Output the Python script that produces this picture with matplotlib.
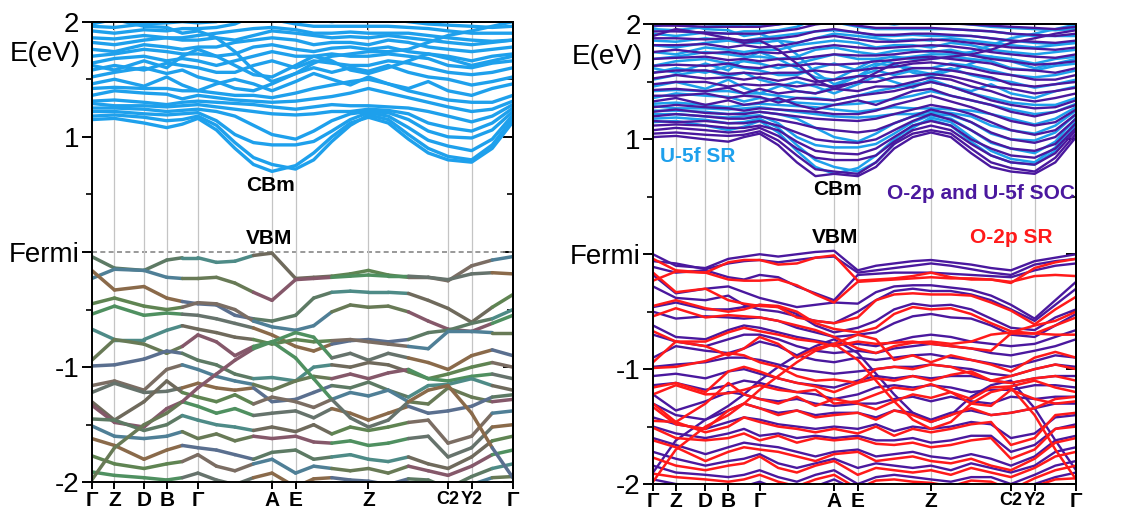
import numpy as np
import matplotlib.pyplot as plt
from matplotlib.collections import LineCollection
from matplotlib.transforms import ScaledTranslation

plt.rcParams['font.family'] = ['Liberation Sans', 'DejaVu Sans']

# k-path sampling (path length scaled to 0..100)
kpath = [0, 5.4, 12.4, 17.8, 21.5, 25.2, 29.6, 34.0, 38.4, 42.8, 48.4,
         52.7, 57.0, 61.4, 65.7, 70.4, 75.2, 79.9, 84.6, 90.2, 95.1, 100]
sym_k = [0, 5.4, 12.4, 17.8, 25.2, 42.8, 48.4, 65.7, 84.6, 90.2, 100]
sym_labels = ['Γ', 'Z', 'D', 'B', 'Γ', 'A', 'E', 'Z', 'C2', 'Y2', 'Γ']

# scalar-relativistic conduction bands (U-5f), eV
sr_cond = [
    [1.15, 1.16, 1.12, 1.08, 1.11, 1.16, 1.06, 0.90, 0.76, 0.70, 0.75, 0.86, 1.00, 1.12, 1.17, 1.12, 0.98, 0.86, 0.80, 0.78, 0.90, 1.13],
    [1.18, 1.19, 1.17, 1.14, 1.15, 1.18, 1.10, 0.95, 0.82, 0.76, 0.72, 0.80, 0.96, 1.10, 1.19, 1.15, 1.02, 0.90, 0.83, 0.80, 0.93, 1.16],
    [1.22, 1.22, 1.20, 1.19, 1.20, 1.21, 1.14, 1.02, 0.95, 0.93, 0.93, 0.96, 1.05, 1.15, 1.21, 1.18, 1.08, 0.97, 0.92, 0.88, 0.98, 1.19],
    [1.25, 1.25, 1.24, 1.22, 1.23, 1.24, 1.22, 1.18, 1.10, 1.02, 0.98, 1.05, 1.14, 1.20, 1.22, 1.21, 1.15, 1.05, 1.00, 0.99, 1.06, 1.22],
    [1.29, 1.27, 1.27, 1.26, 1.27, 1.28, 1.26, 1.24, 1.22, 1.20, 1.19, 1.20, 1.22, 1.22, 1.24, 1.23, 1.20, 1.12, 1.08, 1.05, 1.12, 1.25],
    [1.31, 1.32, 1.30, 1.28, 1.30, 1.31, 1.30, 1.29, 1.28, 1.26, 1.24, 1.26, 1.28, 1.27, 1.27, 1.26, 1.25, 1.22, 1.18, 1.13, 1.18, 1.28],
    [1.36, 1.40, 1.38, 1.37, 1.33, 1.36, 1.34, 1.32, 1.31, 1.30, 1.31, 1.33, 1.35, 1.38, 1.42, 1.38, 1.34, 1.30, 1.26, 1.22, 1.24, 1.31],
    [1.42, 1.43, 1.42, 1.42, 1.40, 1.40, 1.38, 1.36, 1.36, 1.34, 1.38, 1.42, 1.45, 1.48, 1.50, 1.46, 1.40, 1.36, 1.32, 1.30, 1.30, 1.36],
    [1.46, 1.50, 1.44, 1.52, 1.45, 1.40, 1.46, 1.50, 1.46, 1.40, 1.48, 1.55, 1.50, 1.45, 1.52, 1.46, 1.42, 1.48, 1.40, 1.36, 1.42, 1.46],
    [1.52, 1.56, 1.60, 1.55, 1.58, 1.52, 1.48, 1.42, 1.40, 1.46, 1.55, 1.60, 1.56, 1.60, 1.57, 1.62, 1.56, 1.52, 1.50, 1.45, 1.48, 1.52],
    [1.58, 1.62, 1.58, 1.64, 1.62, 1.60, 1.56, 1.56, 1.62, 1.66, 1.60, 1.66, 1.64, 1.62, 1.62, 1.66, 1.64, 1.60, 1.56, 1.54, 1.56, 1.60],
    [1.64, 1.68, 1.70, 1.66, 1.68, 1.66, 1.62, 1.66, 1.70, 1.74, 1.70, 1.70, 1.72, 1.70, 1.70, 1.72, 1.70, 1.68, 1.62, 1.60, 1.64, 1.66],
    [1.70, 1.72, 1.76, 1.74, 1.72, 1.72, 1.70, 1.72, 1.78, 1.80, 1.76, 1.74, 1.77, 1.78, 1.76, 1.78, 1.74, 1.72, 1.70, 1.66, 1.70, 1.72],
    [1.76, 1.74, 1.80, 1.78, 1.76, 1.78, 1.78, 1.82, 1.84, 1.86, 1.84, 1.80, 1.82, 1.82, 1.80, 1.84, 1.82, 1.78, 1.76, 1.74, 1.76, 1.78],
    [1.82, 1.80, 1.84, 1.86, 1.84, 1.84, 1.86, 1.84, 1.88, 1.92, 1.90, 1.88, 1.86, 1.87, 1.86, 1.88, 1.86, 1.84, 1.82, 1.80, 1.82, 1.84],
    [1.86, 1.85, 1.88, 1.86, 1.86, 1.88, 1.90, 1.92, 1.94, 1.95, 1.93, 1.90, 1.90, 1.91, 1.90, 1.90, 1.90, 1.88, 1.86, 1.84, 1.83, 1.84],
    [1.92, 1.90, 1.93, 1.92, 1.94, 1.94, 1.95, 1.98, 2.05, 2.02, 1.98, 1.96, 1.96, 1.96, 1.96, 1.96, 1.95, 1.94, 1.92, 1.90, 1.90, 1.90],
    [1.96, 1.95, 1.98, 1.99, 2.00, 1.99, 2.00, 2.05, 2.10, 2.10, 2.05, 2.02, 2.00, 2.02, 2.04, 2.02, 2.00, 1.98, 1.97, 1.96, 1.95, 1.96],
    [1.98, 2.02, 1.96, 1.95, 1.90, 1.92, 1.86, 1.74, 1.58, 1.48, 1.55, 1.64, 1.70, 1.72, 1.74, 1.74, 1.76, 1.82, 1.88, 1.92, 1.96, 2.00],
    [1.62, 1.58, 1.66, 1.60, 1.70, 1.76, 1.70, 1.62, 1.54, 1.52, 1.62, 1.70, 1.66, 1.58, 1.55, 1.60, 1.66, 1.72, 1.68, 1.62, 1.66, 1.70],
]

# scalar-relativistic valence bands (O-2p), eV
sr_val = [
    [-0.04, -0.14, -0.16, -0.07, -0.05, -0.05, -0.09, -0.08, -0.03, -0.01, -0.23, -0.22, -0.21, -0.19, -0.16, -0.20, -0.22, -0.22, -0.25, -0.12, -0.07, -0.04],
    [-0.23, -0.15, -0.16, -0.22, -0.23, -0.23, -0.22, -0.27, -0.35, -0.42, -0.24, -0.23, -0.22, -0.21, -0.20, -0.21, -0.21, -0.22, -0.24, -0.19, -0.18, -0.19],
    [-0.16, -0.33, -0.30, -0.40, -0.43, -0.45, -0.46, -0.55, -0.58, -0.60, -0.55, -0.40, -0.35, -0.34, -0.35, -0.35, -0.36, -0.42, -0.49, -0.61, -0.48, -0.37],
    [-0.45, -0.40, -0.47, -0.50, -0.48, -0.44, -0.45, -0.50, -0.60, -0.65, -0.68, -0.64, -0.52, -0.46, -0.48, -0.47, -0.52, -0.60, -0.67, -0.69, -0.62, -0.55],
    [-0.54, -0.47, -0.55, -0.53, -0.54, -0.55, -0.58, -0.62, -0.66, -0.72, -0.82, -0.86, -0.80, -0.77, -0.76, -0.78, -0.76, -0.70, -0.68, -0.62, -0.58, -0.50],
    [-0.67, -0.76, -0.76, -0.68, -0.64, -0.67, -0.70, -0.74, -0.76, -0.80, -0.76, -0.78, -0.77, -0.76, -0.78, -0.80, -0.82, -0.84, -0.69, -0.69, -0.70, -0.70],
    [-0.94, -0.76, -0.80, -0.88, -0.82, -0.72, -0.78, -0.90, -0.82, -0.78, -0.70, -0.74, -0.92, -0.88, -0.94, -0.88, -0.92, -0.96, -1.02, -0.90, -0.85, -0.90],
    [-0.99, -0.98, -0.93, -0.86, -0.88, -0.94, -0.98, -1.06, -1.10, -1.09, -1.12, -1.00, -0.98, -1.00, -0.96, -0.98, -1.04, -1.10, -1.06, -1.00, -0.96, -1.00],
    [-1.16, -1.12, -1.20, -1.02, -0.98, -1.02, -1.08, -1.12, -1.15, -1.20, -1.12, -1.08, -1.10, -1.06, -1.10, -1.05, -1.02, -1.10, -1.12, -1.08, -1.06, -1.10],
    [-1.22, -1.14, -1.22, -1.21, -1.18, -1.14, -1.18, -1.20, -1.18, -1.30, -1.28, -1.22, -1.16, -1.18, -1.13, -1.20, -1.26, -1.16, -1.15, -1.10, -1.16, -1.20],
    [-1.30, -1.46, -1.30, -1.12, -1.22, -1.26, -1.30, -1.24, -1.32, -1.26, -1.30, -1.35, -1.28, -1.22, -1.25, -1.20, -1.30, -1.32, -1.18, -1.26, -1.30, -1.28],
    [-1.33, -1.48, -1.52, -1.36, -1.30, -1.34, -1.40, -1.36, -1.42, -1.40, -1.38, -1.44, -1.36, -1.40, -1.46, -1.40, -1.34, -1.40, -1.38, -1.34, -1.26, -1.24],
    [-1.45, -1.46, -1.55, -1.50, -1.42, -1.46, -1.50, -1.52, -1.55, -1.52, -1.56, -1.50, -1.58, -1.52, -1.55, -1.52, -1.48, -1.46, -1.66, -1.60, -1.40, -1.38],
    [-1.51, -1.60, -1.62, -1.60, -1.56, -1.62, -1.58, -1.64, -1.60, -1.62, -1.60, -1.65, -1.66, -1.64, -1.68, -1.66, -1.62, -1.60, -1.78, -1.70, -1.52, -1.50],
    [-1.62, -1.68, -1.80, -1.72, -1.68, -1.70, -1.72, -1.76, -1.80, -1.74, -1.72, -1.80, -1.78, -1.76, -1.80, -1.82, -1.78, -1.84, -1.88, -1.78, -1.64, -1.60],
    [-1.77, -1.84, -1.88, -1.84, -1.82, -1.76, -1.86, -1.90, -1.84, -1.80, -1.92, -1.86, -1.88, -1.90, -1.88, -1.92, -1.86, -1.90, -1.94, -1.86, -1.76, -1.72],
    [-1.91, -1.94, -1.96, -1.98, -1.96, -1.92, -1.98, -2.02, -1.96, -1.92, -2.04, -1.97, -1.96, -1.98, -1.99, -2.02, -1.97, -1.98, -2.05, -1.95, -1.88, -1.84],
    [-2.05, -2.02, -2.04, -2.06, -2.05, -2.03, -2.06, -2.08, -2.04, -2.00, -2.08, -2.05, -2.06, -2.04, -2.05, -2.06, -2.05, -2.04, -2.08, -2.02, -1.96, -1.95],
    [-1.98, -1.70, -1.50, -1.40, -1.30, -1.18, -1.06, -0.94, -0.84, -0.78, -0.92, -1.10, -1.28, -1.44, -1.52, -1.46, -1.30, -1.20, -1.16, -1.40, -1.70, -1.96],
]

# spin-orbit coupled bands (O-2p and U-5f), eV
soc_cond = [
    [1.02, 1.03, 1.00, 0.98, 1.02, 1.05, 0.95, 0.80, 0.68, 0.70, 0.68, 0.76, 0.92, 1.02, 1.06, 1.02, 0.88, 0.76, 0.72, 0.70, 0.80, 1.02],
    [1.05, 1.06, 1.04, 1.03, 1.04, 1.07, 0.99, 0.86, 0.74, 0.72, 0.70, 0.80, 0.96, 1.05, 1.08, 1.05, 0.92, 0.80, 0.75, 0.72, 0.84, 1.05],
    [1.08, 1.10, 1.08, 1.06, 1.07, 1.10, 1.03, 0.92, 0.84, 0.82, 0.82, 0.86, 0.98, 1.08, 1.12, 1.08, 0.96, 0.86, 0.80, 0.78, 0.88, 1.08],
    [1.12, 1.13, 1.12, 1.10, 1.10, 1.12, 1.08, 0.98, 0.90, 0.88, 0.87, 0.92, 1.02, 1.12, 1.16, 1.12, 1.00, 0.92, 0.86, 0.84, 0.92, 1.10],
    [1.16, 1.15, 1.16, 1.14, 1.14, 1.16, 1.12, 1.06, 1.00, 0.98, 0.97, 1.00, 1.08, 1.16, 1.22, 1.17, 1.08, 0.98, 0.92, 0.90, 0.96, 1.14],
    [1.20, 1.22, 1.20, 1.18, 1.18, 1.20, 1.17, 1.14, 1.10, 1.08, 1.06, 1.08, 1.14, 1.20, 1.26, 1.22, 1.15, 1.06, 1.00, 0.97, 1.02, 1.18],
    [1.24, 1.26, 1.23, 1.22, 1.22, 1.24, 1.22, 1.20, 1.18, 1.17, 1.16, 1.18, 1.22, 1.26, 1.30, 1.27, 1.22, 1.15, 1.08, 1.04, 1.08, 1.22],
    [1.28, 1.30, 1.28, 1.27, 1.25, 1.27, 1.26, 1.25, 1.24, 1.22, 1.22, 1.25, 1.30, 1.34, 1.38, 1.33, 1.28, 1.22, 1.16, 1.12, 1.15, 1.26],
    [1.33, 1.36, 1.30, 1.34, 1.30, 1.32, 1.36, 1.30, 1.26, 1.30, 1.34, 1.30, 1.36, 1.42, 1.44, 1.38, 1.34, 1.30, 1.24, 1.20, 1.24, 1.30],
    [1.38, 1.38, 1.40, 1.36, 1.38, 1.37, 1.32, 1.36, 1.35, 1.34, 1.38, 1.40, 1.42, 1.46, 1.50, 1.46, 1.40, 1.34, 1.30, 1.27, 1.28, 1.34],
    [1.43, 1.44, 1.42, 1.45, 1.40, 1.44, 1.40, 1.42, 1.40, 1.44, 1.42, 1.46, 1.46, 1.50, 1.54, 1.52, 1.46, 1.42, 1.36, 1.33, 1.36, 1.40],
    [1.48, 1.50, 1.50, 1.46, 1.48, 1.47, 1.48, 1.46, 1.48, 1.46, 1.50, 1.50, 1.54, 1.55, 1.57, 1.55, 1.51, 1.46, 1.44, 1.40, 1.42, 1.45],
    [1.53, 1.56, 1.53, 1.54, 1.52, 1.54, 1.51, 1.54, 1.50, 1.52, 1.55, 1.55, 1.58, 1.62, 1.62, 1.60, 1.57, 1.54, 1.48, 1.46, 1.48, 1.50],
    [1.58, 1.60, 1.60, 1.57, 1.58, 1.57, 1.58, 1.58, 1.60, 1.58, 1.60, 1.62, 1.63, 1.66, 1.67, 1.65, 1.62, 1.58, 1.56, 1.52, 1.52, 1.56],
    [1.64, 1.65, 1.64, 1.66, 1.63, 1.62, 1.65, 1.64, 1.66, 1.65, 1.66, 1.68, 1.69, 1.71, 1.72, 1.70, 1.68, 1.66, 1.61, 1.60, 1.58, 1.62],
    [1.70, 1.71, 1.72, 1.69, 1.70, 1.68, 1.70, 1.70, 1.72, 1.74, 1.73, 1.73, 1.74, 1.76, 1.77, 1.76, 1.73, 1.70, 1.68, 1.65, 1.66, 1.68],
    [1.76, 1.78, 1.75, 1.76, 1.74, 1.76, 1.75, 1.77, 1.80, 1.82, 1.80, 1.79, 1.80, 1.81, 1.82, 1.81, 1.79, 1.76, 1.74, 1.72, 1.71, 1.74],
    [1.82, 1.82, 1.83, 1.80, 1.82, 1.80, 1.81, 1.84, 1.88, 1.90, 1.87, 1.85, 1.85, 1.86, 1.87, 1.86, 1.84, 1.82, 1.80, 1.79, 1.78, 1.80],
    [1.88, 1.88, 1.87, 1.88, 1.86, 1.87, 1.88, 1.90, 1.94, 1.96, 1.93, 1.91, 1.91, 1.92, 1.92, 1.91, 1.90, 1.88, 1.86, 1.85, 1.84, 1.86],
    [1.94, 1.94, 1.93, 1.92, 1.92, 1.92, 1.94, 1.96, 2.00, 2.02, 1.99, 1.97, 1.97, 1.97, 1.97, 1.96, 1.95, 1.94, 1.92, 1.91, 1.90, 1.92],
    [1.99, 1.99, 1.98, 1.98, 1.98, 1.98, 2.00, 2.02, 2.05, 2.06, 2.04, 2.02, 2.02, 2.02, 2.02, 2.01, 2.00, 1.99, 1.98, 1.97, 1.96, 1.98],
    [1.90, 1.96, 1.92, 1.88, 1.84, 1.86, 1.78, 1.66, 1.52, 1.44, 1.50, 1.58, 1.66, 1.68, 1.70, 1.72, 1.74, 1.78, 1.84, 1.88, 1.92, 1.95],
]

soc_val = [
    [0.00, -0.10, -0.12, -0.04, -0.02, 0.00, -0.02, 0.00, 0.02, 0.03, -0.14, -0.10, -0.08, -0.06, -0.05, -0.07, -0.09, -0.12, -0.14, -0.06, -0.03, 0.00],
    [-0.06, -0.08, -0.13, -0.08, -0.06, -0.05, -0.07, -0.05, -0.03, -0.02, -0.16, -0.14, -0.12, -0.10, -0.08, -0.10, -0.13, -0.16, -0.18, -0.09, -0.06, -0.04],
    [-0.11, -0.16, -0.14, -0.20, -0.22, -0.18, -0.20, -0.28, -0.34, -0.40, -0.18, -0.17, -0.16, -0.16, -0.16, -0.17, -0.18, -0.19, -0.20, -0.14, -0.10, -0.08],
    [-0.18, -0.34, -0.30, -0.28, -0.33, -0.38, -0.42, -0.46, -0.44, -0.42, -0.43, -0.33, -0.28, -0.27, -0.27, -0.29, -0.31, -0.36, -0.44, -0.56, -0.40, -0.24],
    [-0.28, -0.38, -0.40, -0.36, -0.44, -0.48, -0.50, -0.54, -0.58, -0.60, -0.50, -0.40, -0.32, -0.30, -0.32, -0.32, -0.35, -0.40, -0.48, -0.58, -0.44, -0.30],
    [-0.46, -0.42, -0.48, -0.48, -0.46, -0.44, -0.46, -0.52, -0.62, -0.68, -0.64, -0.58, -0.48, -0.43, -0.45, -0.44, -0.48, -0.56, -0.64, -0.66, -0.55, -0.48],
    [-0.50, -0.56, -0.54, -0.55, -0.56, -0.55, -0.58, -0.64, -0.68, -0.72, -0.70, -0.68, -0.60, -0.54, -0.52, -0.55, -0.56, -0.62, -0.70, -0.72, -0.62, -0.52],
    [-0.62, -0.72, -0.74, -0.66, -0.62, -0.64, -0.68, -0.72, -0.75, -0.78, -0.78, -0.80, -0.76, -0.72, -0.70, -0.72, -0.76, -0.78, -0.80, -0.78, -0.72, -0.66],
    [-0.70, -0.76, -0.80, -0.74, -0.70, -0.70, -0.74, -0.80, -0.84, -0.86, -0.84, -0.86, -0.82, -0.80, -0.78, -0.80, -0.82, -0.86, -0.88, -0.84, -0.80, -0.74],
    [-0.90, -0.80, -0.84, -0.86, -0.82, -0.76, -0.80, -0.88, -0.92, -0.94, -0.90, -0.92, -0.90, -0.88, -0.87, -0.90, -0.92, -0.95, -0.98, -0.93, -0.88, -0.90],
    [-0.98, -0.96, -0.94, -0.90, -0.90, -0.92, -0.96, -1.00, -1.02, -1.04, -1.02, -1.00, -0.98, -0.98, -0.96, -0.98, -1.00, -1.04, -1.06, -1.00, -0.96, -0.98],
    [-1.06, -1.04, -1.08, -1.02, -1.00, -1.04, -1.08, -1.12, -1.14, -1.16, -1.10, -1.06, -1.08, -1.06, -1.08, -1.06, -1.06, -1.10, -1.12, -1.08, -1.06, -1.06],
    [-1.14, -1.12, -1.18, -1.14, -1.10, -1.12, -1.16, -1.20, -1.22, -1.26, -1.22, -1.16, -1.14, -1.16, -1.14, -1.16, -1.20, -1.18, -1.18, -1.14, -1.14, -1.16],
    [-1.22, -1.36, -1.28, -1.20, -1.22, -1.26, -1.28, -1.26, -1.30, -1.32, -1.30, -1.30, -1.26, -1.24, -1.28, -1.24, -1.28, -1.30, -1.24, -1.26, -1.24, -1.24],
    [-1.30, -1.40, -1.44, -1.36, -1.30, -1.34, -1.38, -1.36, -1.40, -1.38, -1.38, -1.42, -1.36, -1.38, -1.44, -1.38, -1.36, -1.40, -1.38, -1.34, -1.30, -1.30],
    [-1.42, -1.48, -1.52, -1.46, -1.42, -1.44, -1.48, -1.50, -1.52, -1.50, -1.52, -1.48, -1.54, -1.50, -1.52, -1.50, -1.46, -1.48, -1.60, -1.56, -1.42, -1.40],
    [-1.50, -1.56, -1.60, -1.56, -1.52, -1.58, -1.56, -1.60, -1.58, -1.60, -1.58, -1.62, -1.62, -1.60, -1.64, -1.62, -1.58, -1.58, -1.72, -1.66, -1.52, -1.48],
    [-1.60, -1.66, -1.74, -1.68, -1.64, -1.66, -1.68, -1.72, -1.76, -1.72, -1.70, -1.76, -1.74, -1.72, -1.76, -1.78, -1.74, -1.78, -1.84, -1.76, -1.62, -1.58],
    [-1.72, -1.78, -1.84, -1.80, -1.78, -1.74, -1.82, -1.86, -1.82, -1.78, -1.86, -1.82, -1.84, -1.86, -1.84, -1.88, -1.82, -1.86, -1.90, -1.84, -1.72, -1.68],
    [-1.84, -1.90, -1.92, -1.94, -1.92, -1.88, -1.94, -1.98, -1.92, -1.88, -2.00, -1.94, -1.92, -1.94, -1.96, -1.98, -1.94, -1.94, -2.00, -1.92, -1.84, -1.80],
    [-1.96, -2.00, -2.02, -2.04, -2.02, -1.98, -2.04, -2.06, -2.02, -1.96, -2.06, -2.02, -2.02, -2.01, -2.03, -2.04, -2.02, -2.01, -2.06, -2.00, -1.94, -1.90],
    [-1.90, -1.62, -1.44, -1.32, -1.22, -1.10, -0.98, -0.88, -0.80, -0.74, -0.86, -1.04, -1.22, -1.38, -1.46, -1.40, -1.24, -1.14, -1.10, -1.34, -1.62, -1.88],
]

# muted projection tints for the left valence bands
proj_colors = ['#5d7a64', '#4e8b87', '#6f6a5c', '#5f8452', '#7b6d63', '#4f7f96',
               '#687a56', '#85586a', '#4f9060', '#66736c', '#8a6a4a', '#5a6f8f']

SR_BLUE = '#1ea0ec'
SR_RED = '#ff1a1a'
SOC_PURPLE = '#4a189e'


def draw_bands(ax, bands, color, lw):
    for e in bands:
        ax.plot(kpath, e, color=color, lw=lw, solid_joinstyle='round',
                solid_capstyle='round', zorder=2)


def draw_projected(ax, bands, lw):
    k = np.array(kpath)
    for i, e in enumerate(bands):
        pts = np.column_stack([k, e])
        segs = [pts[j:j + 2] for j in range(len(k) - 1)]
        cols = [proj_colors[(i * 5 + j // 4) % len(proj_colors)] for j in range(len(segs))]
        lc = LineCollection(segs, colors=cols, linewidths=lw, capstyle='round',
                            joinstyle='round', zorder=2)
        ax.add_collection(lc)


def style_axes(ax):
    ax.set_xlim(0, 100)
    ax.set_ylim(-2, 2)
    for x in sym_k[1:-1]:
        ax.axvline(x, color='#c4c4c4', lw=0.9, zorder=1)
    ax.set_xticks(sym_k)
    ax.set_xticklabels(sym_labels, fontsize=15, fontweight='bold')
    # C2 and Y2 sit close together; nudge them right and tighten
    labs = ax.get_xticklabels()
    for lab, dx in ((labs[8], 5), (labs[9], 10)):
        lab.set_fontsize(13)
        shift = ScaledTranslation(dx / 100, 0, ax.figure.dpi_scale_trans)
        lab.set_transform(lab.get_transform() + shift)
    ax.set_yticks([-2, -1, 0, 1, 2])
    ax.set_yticklabels(['-2', '-1', 'Fermi', '1', '2'], fontsize=20)
    ax.set_yticks([-1.5, -0.5, 0.5, 1.5], minor=True)
    ax.tick_params(axis='y', which='major', direction='out', length=7, width=1.4, pad=2)
    ax.tick_params(axis='y', which='minor', direction='out', length=4, width=1.2)
    ax.tick_params(axis='x', which='major', direction='out', length=5, width=1.4, pad=1)
    for s in ax.spines.values():
        s.set_linewidth(1.4)
    sec_y = ax.secondary_yaxis('right')
    sec_y.set_yticks([-2, -1, 0, 1, 2])
    sec_y.set_yticks([-1.5, -0.5, 0.5, 1.5], minor=True)
    sec_y.tick_params(which='major', direction='in', length=7, width=1.4, labelright=False)
    sec_y.tick_params(which='minor', direction='in', length=4, width=1.2)
    sec_y.spines['right'].set_linewidth(1.4)
    sec_x = ax.secondary_xaxis('top')
    sec_x.set_xticks(sym_k)
    sec_x.tick_params(direction='in', length=6, width=1.4, labeltop=False)
    sec_x.spines['top'].set_linewidth(1.4)
    ax.text(-0.025, 0.93, 'E(eV)', transform=ax.transAxes, ha='right', va='center',
            fontsize=20)


fig = plt.figure(figsize=(11.23, 5.2), dpi=100)

# scalar-relativistic panel
ax1 = fig.add_axes([0.0817, 0.0725, 0.375, 0.8858])
draw_bands(ax1, sr_cond, SR_BLUE, 2.4)
draw_projected(ax1, sr_val, 2.5)
ax1.axhline(0, color='#888888', lw=1.2, ls=(0, (3, 2)), zorder=1)
style_axes(ax1)
ax1.text(42.5, 0.58, 'CBm', ha='center', va='center', fontsize=15, fontweight='bold')
ax1.text(42.0, 0.12, 'VBM', ha='center', va='center', fontsize=15, fontweight='bold')

# SOC vs SR panel
ax2 = fig.add_axes([0.5815, 0.0692, 0.3767, 0.8837])
draw_bands(ax2, sr_cond, SR_BLUE, 1.8)
draw_bands(ax2, soc_cond, SOC_PURPLE, 1.7)
draw_bands(ax2, soc_val, SOC_PURPLE, 1.7)
draw_bands(ax2, sr_val, SR_RED, 1.8)
style_axes(ax2)
ax2.text(43.7, 0.56, 'CBm', ha='center', va='center', fontsize=15, fontweight='bold')
ax2.text(43.0, 0.15, 'VBM', ha='center', va='center', fontsize=15, fontweight='bold')
ax2.text(1.7, 0.85, 'U-5f SR', ha='left', va='center', fontsize=15,
         fontweight='bold', color=SR_BLUE)
ax2.text(77.5, 0.53, 'O-2p and U-5f SOC', ha='center', va='center', fontsize=15,
         fontweight='bold', color=SOC_PURPLE)
ax2.text(84.6, 0.15, 'O-2p SR', ha='center', va='center', fontsize=15,
         fontweight='bold', color=SR_RED)

fig.savefig('out.png', dpi=100)
